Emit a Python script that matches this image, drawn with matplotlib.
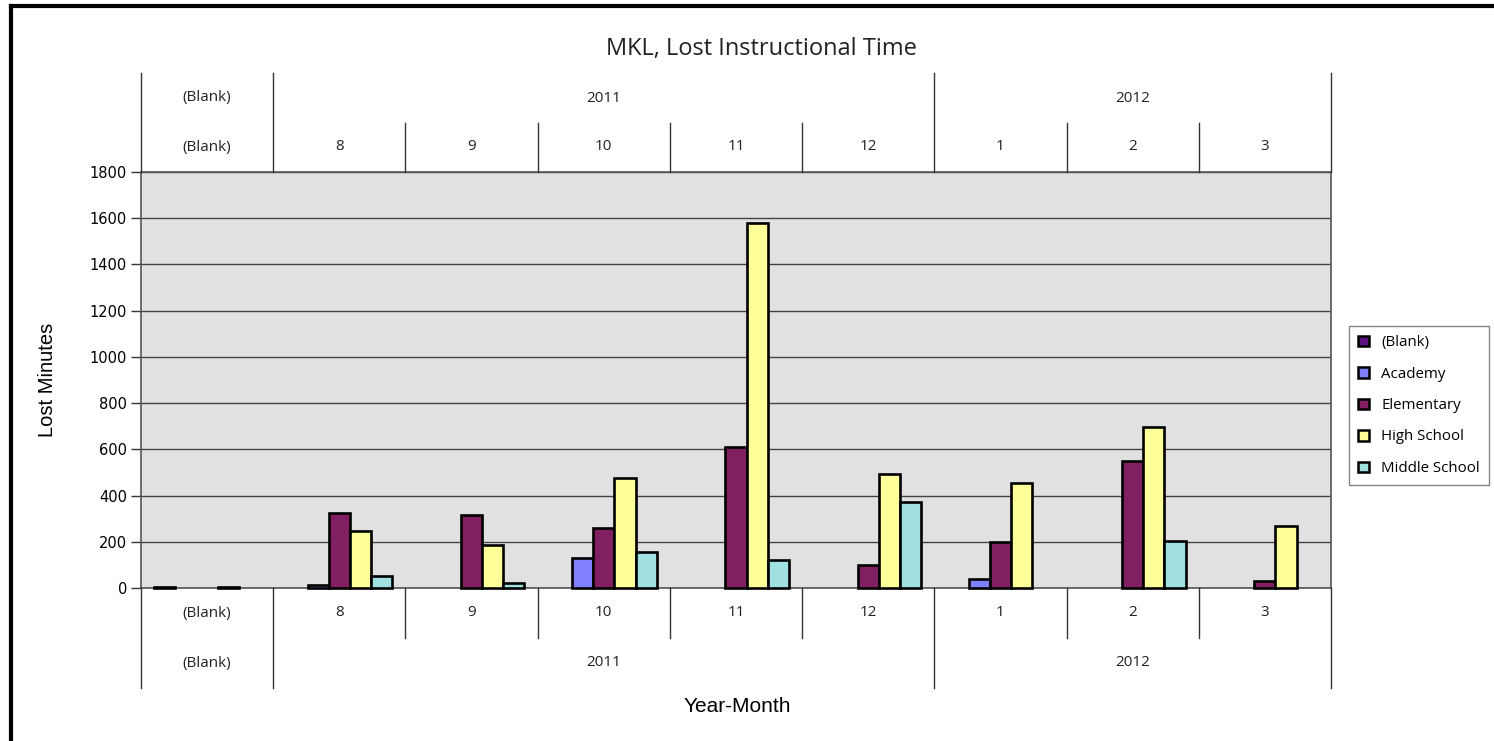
import numpy as np
import matplotlib
matplotlib.use('Agg')
import matplotlib.pyplot as plt
from matplotlib.patches import Patch
from matplotlib.lines import Line2D
from matplotlib.transforms import blended_transform_factory

# data
months = ['(Blank)', '8', '9', '10', '11', '12', '1', '2', '3']
years = ['(Blank)', '2011', '2012']
year_spans = [(0, 0), (1, 5), (6, 8)]
series_names = ['(Blank)', 'Academy', 'Elementary', 'High School', 'Middle School']
blank = [3, 0, 0, 0, 0, 0, 0, 0, 0]
academy = [0, 15, 0, 130, 0, 0, 40, 0, 0]
elementary = [0, 325, 318, 260, 610, 100, 200, 548, 30]
high_school = [3, 247, 186, 477, 1580, 495, 455, 697, 270]
middle_school = [0, 50, 20, 155, 120, 370, 0, 205, 0]
colors = ['#5B1180', '#8080FF', '#802060', '#FFFF99', '#A0E0E0']

W, H = 1494, 741
fig = plt.figure(figsize=(W / 100, H / 100), dpi=100)
ax = fig.add_axes([141 / W, 1 - 588 / H, (1331 - 141) / W, (588 - 172) / H])
ax.set_facecolor('#E1E1E1')

x = np.arange(len(months))
bw = 0.16
all_series = [blank, academy, elementary, high_school, middle_school]
for k, (vals, c) in enumerate(zip(all_series, colors)):
    for i, v in enumerate(vals):
        if v > 0:
            ax.bar(x[i] + (k - 2) * bw, v, width=bw, color=c, edgecolor='black',
                   linewidth=1.9, clip_on=False, zorder=3)

ax.set_xlim(-0.5, len(months) - 0.5)
ax.set_ylim(0, 1800)
ax.set_yticks(np.arange(0, 1801, 200))
ax.tick_params(axis='y', length=7, width=1, color='#333333', labelsize=10.5, pad=3)
ax.set_xticks([])
ax.yaxis.grid(True, color='#444444', linewidth=1)
ax.set_axisbelow(True)
for s in ax.spines.values():
    s.set_color('#555555')
    s.set_linewidth(1.2)

def py(p):
    return 1 - p / H

fig.text(48 / W, py(380), 'Lost Minutes', family='Liberation Sans', fontsize=14.5,
         rotation=90, ha='center', va='center')
fig.text(737 / W, py(707), 'Year-Month', family='Liberation Sans', fontsize=15,
         ha='center', va='center')
fig.text(762 / W, py(49), 'MKL, Lost Instructional Time', family='Open Sans',
         fontsize=17, ha='center', va='center', color='#222222')

# category header rows above and below the plot
tr = blended_transform_factory(ax.transData, fig.transFigure)
for i, m in enumerate(months):
    for yy in (147, 613):
        ax.text(i, py(yy), m, transform=tr, ha='center', va='center',
                family='Open Sans', fontsize=11, color='#222222')
for name, (a, b) in zip(years, year_spans):
    for yy in (98, 663):
        ax.text((a + b) / 2, py(yy), name, transform=tr, ha='center', va='center',
                family='Open Sans', fontsize=11, color='#222222')

year_edges = [-0.5, 0.5, 5.5, 8.5]
for e in np.arange(-0.5, len(months), 1.0):
    if e in year_edges:
        top, bot = (73, 172), (588, 688)
    else:
        top, bot = (123, 172), (588, 638)
    for y0, y1 in (top, bot):
        fig.add_artist(Line2D([e, e], [py(y0), py(y1)], transform=tr,
                              color='#333333', linewidth=1))

# legend
handles = [Patch(facecolor=c, edgecolor='black', linewidth=1.8) for c in colors]
leg = fig.legend(handles, series_names, loc='upper left',
                 bbox_to_anchor=(1349 / W, py(326)), frameon=True, fancybox=False,
                 prop={'family': 'Open Sans', 'size': 10.8}, handlelength=0.7,
                 handleheight=0.7, labelspacing=1.1, handletextpad=0.85,
                 borderpad=0.6, borderaxespad=0)
leg.get_frame().set_edgecolor('#666666')
leg.get_frame().set_linewidth(1)

# outer border
fig.add_artist(Line2D([11 / W, 11 / W], [0, py(6)], color='black', linewidth=3))
fig.add_artist(Line2D([11 / W, 1], [py(6), py(6)], color='black', linewidth=3))

fig.savefig('out.png', dpi=100)
